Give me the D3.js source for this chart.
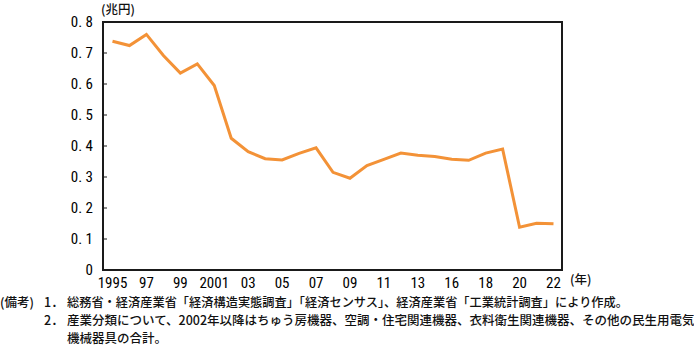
<!DOCTYPE html>
<html><head><meta charset="utf-8">
<script src="https://cdn.jsdelivr.net/npm/d3@7"></script>
<style>
html,body{margin:0;padding:0;background:#fff;}
svg{display:block;}
.num{font-family:"Liberation Sans Narrow","Roboto Condensed","Noto Sans CJK JP",sans-serif;}
.jp{font-family:"Noto Sans CJK JP","Noto Sans",sans-serif;font-weight:500;}
</style>
</head><body>
<svg id="c" width="694" height="357" viewBox="0 0 694 357"></svg>
<script>
const years = ["1995","1996","1997","1998","1999","2000","2001","2002","2003","2004","2005","2006","2007","2008","2009","2010","2011","2012","2013","2014","2016","2017","2018","2019","2020","2021","2022"];
const values = [0.738,0.724,0.760,0.692,0.635,0.665,0.595,0.425,0.382,0.359,0.355,0.376,0.394,0.315,0.296,0.337,0.357,0.377,0.370,0.366,0.357,0.354,0.377,0.390,0.138,0.151,0.149];
const xTickYears = ["1995","1997","1999","2001","2003","2005","2007","2009","2011","2013","2016","2018","2020","2022"];
const xTickLabels = ["1995","97","99","2001","03","05","07","09","11","13","16","18","20","22"];
const yTicks = [0,0.1,0.2,0.3,0.4,0.5,0.6,0.7,0.8];
const yUnit = "(兆円)";
const xUnit = "(年)";
const notesHead = "(備考)";
const notes = [
  ["1．","総務省・経済産業省「経済構造実態調査」「経済センサス」、経済産業省「工業統計調査」により作成。"],
  ["2．","産業分類について、2002年以降はちゅう房機器、空調・住宅関連機器、衣料衛生関連機器、その他の民生用電気"],
  ["","機械器具の合計。"]
];

const svg = d3.select("#c");
const L=103, T=22, R=562, B=270;
const x = d3.scalePoint().domain(years).range([112.5, 553.5]);
const y = d3.scaleLinear().domain([0,0.8]).range([B,T]);

// frame as filled bars (2px)
const fr = svg.append("g").attr("fill","#1a1a1a");
fr.append("rect").attr("x",L-1).attr("y",T-1).attr("width",R-L+2).attr("height",2);
fr.append("rect").attr("x",L-1).attr("y",B-1).attr("width",R-L+2).attr("height",2);
fr.append("rect").attr("x",L-1).attr("y",T-1).attr("width",2).attr("height",B-T+2);
fr.append("rect").attr("x",R-1).attr("y",T-1).attr("width",2).attr("height",B-T+2);
// inward y ticks
fr.selectAll("rect.tk").data(yTicks).join("rect").attr("class","tk")
  .attr("x",L).attr("y",d=>y(d)-0.5).attr("width",4).attr("height",1);

// y labels
svg.append("g").selectAll("text").data(yTicks).join("text")
  .attr("class","num").attr("x",93).attr("y",d=>y(d)).attr("dy","0.35em")
  .attr("text-anchor","end").attr("font-size",15).attr("fill","#000")
  .text(d=> d===0 ? "0" : d.toFixed(1).replace(".",". "));

// x labels
svg.append("g").selectAll("text").data(xTickYears).join("text")
  .attr("class","num").attr("x",d=>x(d)).attr("y",283).attr("dy","0.35em")
  .attr("text-anchor","middle").attr("font-size",15).attr("fill","#000")
  .text((d,i)=>xTickLabels[i]);

// line
const line = d3.line().x((d,i)=>x(years[i])).y(d=>y(d));
svg.append("path").datum(values).attr("d",line)
  .style("fill","none").style("stroke","#F39237").style("stroke-width","3px");

// units
svg.append("text").attr("class","jp").attr("x",101).attr("y",10).attr("dy","0.35em")
  .attr("font-size",12.5).attr("fill","#111").text(yUnit);
svg.append("text").attr("class","jp").attr("x",570).attr("y",280).attr("dy","0.35em")
  .attr("font-size",12.5).attr("fill","#111").text(xUnit);

// notes
const ny = [303, 321, 339];
svg.append("text").attr("class","jp").attr("x",0).attr("y",ny[0]).attr("dy","0.35em")
  .attr("font-size",12.5).attr("fill","#111").text(notesHead);
const lens = [561, null, null];
notes.forEach((n,i)=>{
  if(n[0]) svg.append("text").attr("class","jp").attr("x",44).attr("y",ny[i]).attr("dy","0.35em")
    .attr("font-size",12.5).attr("fill","#111").text(n[0]);
  const t = svg.append("text").attr("class","jp").attr("x",67).attr("y",ny[i]).attr("dy","0.35em")
    .attr("font-size",12.5).attr("fill","#111").text(n[1]);
  if(lens[i]) t.attr("textLength",lens[i]).attr("lengthAdjust","spacingAndGlyphs");
});
</script>
</body></html>
